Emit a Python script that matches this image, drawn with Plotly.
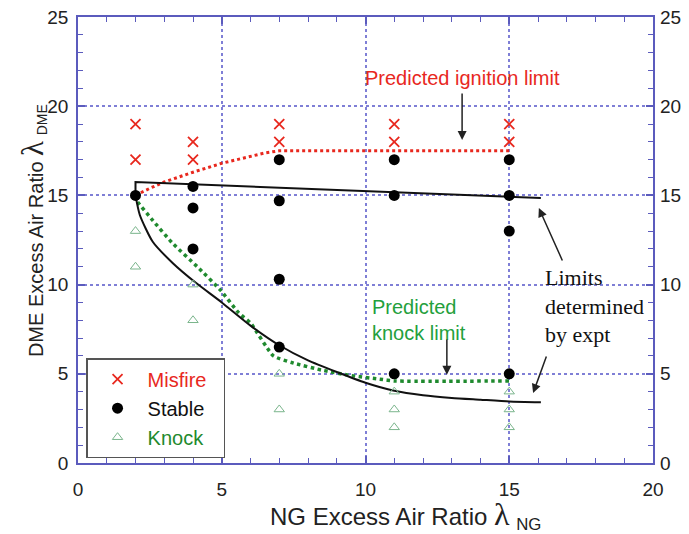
import plotly.graph_objects as go

# ---- data ----
misfire_x = [2, 2, 4, 4, 7, 7, 11, 11, 15, 15]
misfire_y = [19, 17, 18, 17, 19, 18, 19, 18, 19, 18]

stable_x = [2, 4, 4, 4, 7, 7, 7, 7, 11, 11, 11, 15, 15, 15, 15]
stable_y = [15, 15.5, 14.3, 12, 17, 14.7, 10.3, 6.5, 17, 15, 5, 17, 15, 13, 5]

knock_x = [2, 2, 4, 4, 7, 7, 11, 11, 11, 15, 15, 15]
knock_y = [13, 11, 10, 8, 5, 3, 4, 3, 2, 4, 3, 2]

ign_x = [2, 2.5, 3, 4, 5, 6, 6.5, 7, 15]
ign_y = [15, 15.4, 15.75, 16.3, 16.8, 17.2, 17.38, 17.5, 17.5]

klim_x = [2, 2.05, 2.6, 3.3, 4.15, 4.95, 5.6, 6.0, 6.8, 7.5, 8.5, 9.5, 10.5, 11, 15]
klim_y = [15, 14.7, 13.6, 12.3, 11.0, 9.7, 8.4, 7.85, 6.0, 5.6, 5.2, 4.9, 4.7, 4.6, 4.6]

exp_up_x = [2, 2, 16.1]
exp_up_y = [15, 15.75, 14.85]

exp_lo_x = [2, 2.15, 2.6, 3.3, 4.1, 5, 6, 7, 8, 9, 10, 11, 12, 13, 14, 15, 16.1]
exp_lo_y = [15, 13.9, 12.4, 11.2, 10.1, 9.0, 7.7, 6.6, 5.75, 5.1, 4.5, 4.05, 3.8, 3.65, 3.55, 3.45, 3.4]

x_ticks = [0, 5, 10, 15, 20]
y_ticks = [0, 5, 10, 15, 20, 25]

FONT = "Liberation Sans, Arial, sans-serif"
SERIF = "Liberation Serif, Times New Roman, serif"
AXC = "#5b5bbd"
GRIDC = "#7f7fd6"
RED = "#e8281e"
GREEN_LINE = "#1f8a2e"
GREEN_TXT = "#23a03c"
KNOCK_C = "#7ab58c"

fig = go.Figure()

# lines
fig.add_trace(go.Scatter(x=ign_x, y=ign_y, mode="lines", showlegend=False, hoverinfo="skip",
                         line=dict(color=RED, width=3, dash="dot")))
fig.add_trace(go.Scatter(x=klim_x, y=klim_y, mode="lines", showlegend=False, hoverinfo="skip",
                         line=dict(color=GREEN_LINE, width=3.5, dash="dot", shape="spline", smoothing=0.5)))
fig.add_trace(go.Scatter(x=exp_up_x, y=exp_up_y, mode="lines", showlegend=False, hoverinfo="skip",
                         line=dict(color="#111111", width=2)))
fig.add_trace(go.Scatter(x=exp_lo_x, y=exp_lo_y, mode="lines", showlegend=False, hoverinfo="skip",
                         line=dict(color="#111111", width=2, shape="spline", smoothing=0.6)))

# markers
fig.add_trace(go.Scatter(x=misfire_x, y=misfire_y, mode="markers",
                         name=f"<span style='color:{RED}'>Misfire</span>&nbsp;&nbsp;",
                         marker=dict(symbol="x-thin-open", size=10, color=RED, line=dict(color=RED, width=1.8))))
fig.add_trace(go.Scatter(x=stable_x, y=stable_y, mode="markers",
                         name="<span style='color:#111111'>Stable</span>",
                         marker=dict(symbol="circle", size=11, color="#000000")))
fig.add_trace(go.Scatter(x=knock_x, y=knock_y, mode="markers",
                         name=f"<span style='color:{GREEN_LINE}'>Knock</span>",
                         marker=dict(symbol="triangle-up-open", size=9, color=KNOCK_C, line=dict(color=KNOCK_C, width=1))))

# invisible trace for right axis
fig.add_trace(go.Scatter(x=[0], y=[0], yaxis="y2", mode="markers", showlegend=False, hoverinfo="skip",
                         marker=dict(opacity=0)))

axis_common = dict(
    showline=True, linecolor=AXC, linewidth=1.5, mirror="ticks",
    ticks="inside", ticklen=7, tickwidth=1.5, tickcolor=AXC,
    showgrid=True, gridcolor=GRIDC, gridwidth=1.5, griddash="dot",
    zeroline=False, automargin=False,
    tickfont=dict(family=FONT, size=19, color="#222222"),
    minor=dict(dtick=1, ticks="inside", ticklen=5, tickwidth=1.3, tickcolor=AXC, showgrid=False),
)

fig.update_layout(
    width=689, height=534, autosize=False,
    margin=dict(l=78, r=36, t=17, b=71),
    paper_bgcolor="white", plot_bgcolor="white",
    font=dict(family=FONT, size=19, color="#222222"),
    xaxis=dict(range=[0, 20], tickvals=x_ticks, ticklabelstandoff=8, **axis_common),
    yaxis=dict(range=[0, 25], tickvals=y_ticks, ticklabelstandoff=4, **axis_common),
    yaxis2=dict(range=[0, 25], tickvals=y_ticks, overlaying="y", side="right", showgrid=False,
                showline=False, ticks="", zeroline=False, ticklabelstandoff=6, automargin=False,
                tickfont=dict(family=FONT, size=19, color="#222222")),
    legend=dict(x=0.014, y=0.235, xanchor="left", yanchor="top",
                bgcolor="white", bordercolor="#555555", borderwidth=1.5,
                font=dict(family=FONT, size=20), itemwidth=50, tracegroupgap=0),
    showlegend=True,
)

annotations = [
    # axis titles
    dict(xref="paper", yref="paper", x=0.57, y=-0.117, xanchor="center", yanchor="middle", showarrow=False,
         text=f"NG Excess Air Ratio <span style='font-family:{SERIF};font-size:32px'>λ</span> <sub>NG</sub>",
         font=dict(family=FONT, size=24, color="#222222")),
    dict(xref="paper", yref="paper", x=-0.08, y=0.52, xanchor="center", yanchor="middle", showarrow=False,
         textangle=-90,
         text=f"DME Excess Air Ratio <span style='font-family:{SERIF};font-size:31px'>λ</span> <sub>DME</sub>",
         font=dict(family=FONT, size=20, color="#222222")),
    # text labels
    dict(x=13.39, y=21.6, xref="x", yref="y", showarrow=False, text="Predicted ignition limit",
         font=dict(family=FONT, size=20, color=RED)),
    dict(x=10.16, y=8.0, xref="x", yref="y", xanchor="left", yanchor="middle", showarrow=False, align="left",
         text="Predicted<br>knock limit", font=dict(family=FONT, size=20, color=GREEN_TXT)),
    dict(x=16.17, y=8.8, xref="x", yref="y", xanchor="left", yanchor="middle", showarrow=False, align="left",
         text="Limits<br>determined<br>by expt", font=dict(family=SERIF, size=22, color="#111111")),
    # arrows
    dict(x=13.36, y=18.1, ax=13.36, ay=20.8, xref="x", yref="y", axref="x", ayref="y", text="",
         showarrow=True, arrowhead=2, arrowsize=1.2, arrowwidth=1.5, arrowcolor="#222222"),
    dict(x=12.83, y=4.95, ax=12.83, ay=7.0, xref="x", yref="y", axref="x", ayref="y", text="",
         showarrow=True, arrowhead=2, arrowsize=1.2, arrowwidth=1.5, arrowcolor="#222222"),
    dict(x=16.03, y=14.29, ax=16.87, ay=11.27, xref="x", yref="y", axref="x", ayref="y", text="",
         showarrow=True, arrowhead=2, arrowsize=1.2, arrowwidth=1.5, arrowcolor="#222222"),
    dict(x=15.83, y=3.92, ax=16.31, ay=6.05, xref="x", yref="y", axref="x", ayref="y", text="",
         showarrow=True, arrowhead=2, arrowsize=1.2, arrowwidth=1.5, arrowcolor="#222222"),
]
fig.update_layout(annotations=annotations)

fig.write_html("out.html", config={"displayModeBar": False},
               post_script="document.body.style.margin='0';document.body.style.overflow='hidden';")
